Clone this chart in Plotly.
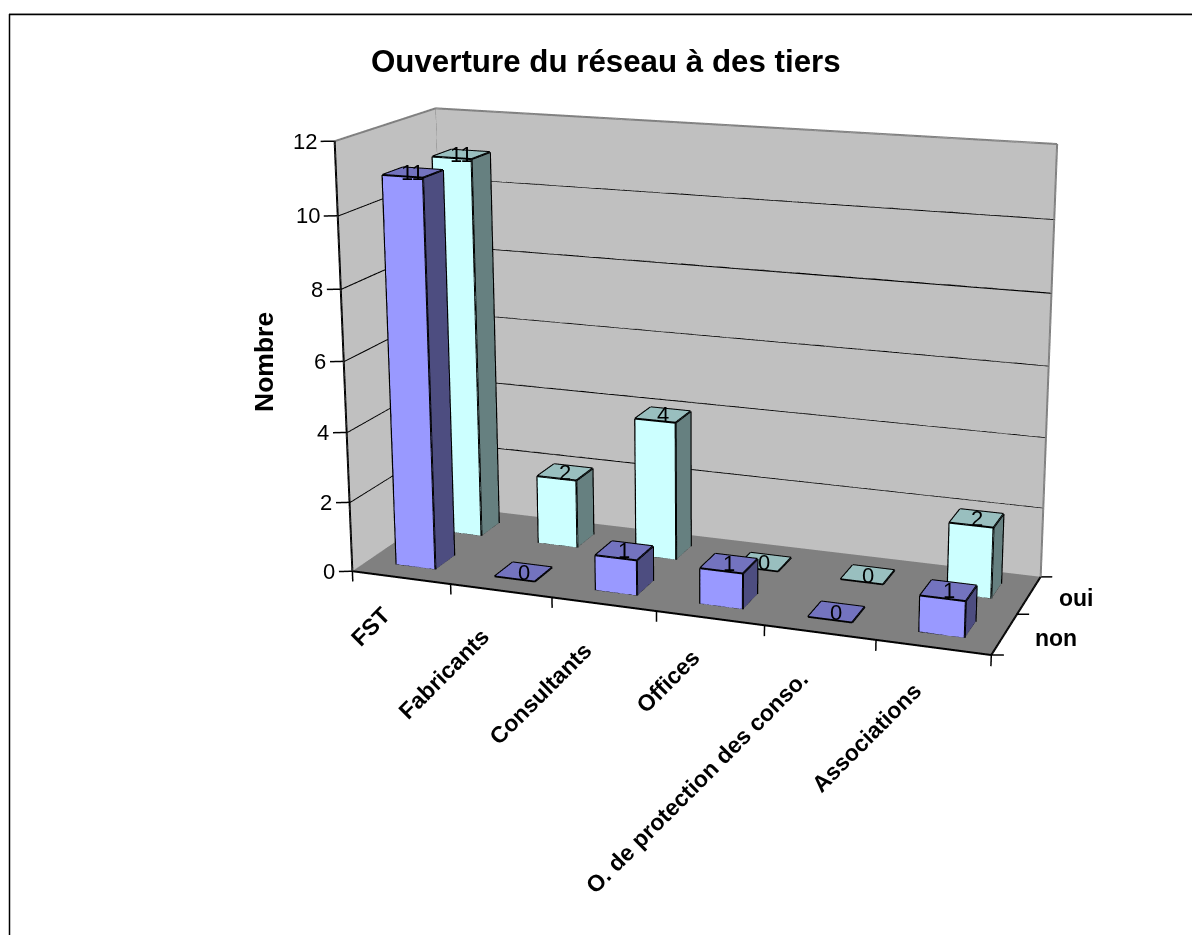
import numpy as np
import plotly.graph_objects as go

categories = ["FST", "Fabricants", "Consultants", "Offices", "O. de protection des conso.", "Associations"]
series = ["non", "oui"]
non = [11, 0, 1, 1, 0, 1]
oui = [11, 2, 4, 0, 0, 2]
z_ticks = [0, 2, 4, 6, 8, 10, 12]

W, H = 1192, 935
XR, YR, ZR = (-0.5, 6.5), (-0.5, 2.5), (-1.5, 13)
lo = np.array([XR[0], YR[0], ZR[0]]); hi = np.array([XR[1], YR[1], ZR[1]])

# camera: a long lens with an off-centre principal point, so the plot is larger than the window and offset
eye = [2.121, -5.799, 1.689]
ctr = [0.007, 0.103, 0.058]
aspect = np.array([0.3073, 0.3061, 0.1025]) * (hi - lo)
LW, LH, OX, OY = 1440, 1923, -10, -618
def pxx(p): return (p - OX) / LW
def pxy(p): return 1 - (p - OY) / LH

BW = 0.2
LIT = dict(ambient=1, diffuse=0, specular=0, fresnel=0, roughness=1)
def bars(vals, yc, c_front, c_side, c_top, name):
    X, Y, Z, I, J, K, FC = [], [], [], [], [], [], []
    ex, ey, ez = [], [], []
    for n, v in enumerate(vals):
        x0, x1, y0, y1, z1 = n + 0.5 - BW, n + 0.5 + BW, yc - BW, yc + BW, max(v, 0.02)
        faces = [([(x0, y0, 0), (x1, y0, 0), (x1, y0, z1), (x0, y0, z1)], c_front),
                 ([(x1, y0, 0), (x1, y1, 0), (x1, y1, z1), (x1, y0, z1)], c_side),
                 ([(x0, y0, z1), (x1, y0, z1), (x1, y1, z1), (x0, y1, z1)], c_top)]
        for pts, c in faces:
            if v == 0 and c != c_top:
                continue
            b = len(X)
            for p in pts:
                X.append(p[0]); Y.append(p[1]); Z.append(p[2])
            I += [b, b]; J += [b + 1, b + 2]; K += [b + 2, b + 3]; FC += [c, c]
            for a, e in ((0, 1), (1, 2), (2, 3), (3, 0)):
                ex += [pts[a][0], pts[e][0], None]
                ey += [pts[a][1], pts[e][1], None]
                ez += [pts[a][2], pts[e][2], None]
    return (go.Mesh3d(x=X, y=Y, z=Z, i=I, j=J, k=K, facecolor=FC, flatshading=True, name=name, lighting=LIT, hoverinfo="skip"),
            go.Scatter3d(x=ex, y=ey, z=ez, mode="lines", line=dict(color="black", width=4), hoverinfo="skip", showlegend=False))

fig = go.Figure()
zt = z_ticks[-1]
nc = len(categories)
fig.add_trace(go.Mesh3d(x=[0, nc, nc, 0, 0, 0, 0, 0, 0, nc, nc, 0],
                        y=[2, 2, 2, 2, 0, 2, 2, 0, 0, 0, 2, 2],
                        z=[0, 0, zt, zt, 0, 0, zt, zt, 0, 0, 0, 0],
                        i=[0, 0, 4, 4, 8, 8], j=[1, 2, 5, 6, 9, 10], k=[2, 3, 6, 7, 10, 11],
                        facecolor=["#C0C0C0"] * 4 + ["#808080"] * 2, flatshading=True, lighting=LIT, hoverinfo="skip"))

def lines(segs, color, width=2):
    xs, ys, zs = [], [], []
    for a, b in segs:
        xs += [a[0], b[0], None]; ys += [a[1], b[1], None]; zs += [a[2], b[2], None]
    fig.add_trace(go.Scatter3d(x=xs, y=ys, z=zs, mode="lines", line=dict(color=color, width=width), hoverinfo="skip"))

lines([((0, 0, z), (0, 2, z)) for z in z_ticks[1:-1]] + [((0, 2, z), (nc, 2, z)) for z in z_ticks[1:-1]], "black", 3.5)
lines([((0, 0, zt), (0, 2, zt)), ((0, 2, zt), (nc, 2, zt)), ((0, 2, 0), (0, 2, zt)), ((nc, 2, 0), (nc, 2, zt))], "#808080", 4)
lines([((0, 0, 0), (0, 0, zt)), ((0, 0, 0), (nc, 0, 0)), ((nc, 0, 0), (nc, 2, 0))], "black", 4)
lines([((0, 0, z), (-0.112, -0.05, z)) for z in z_ticks]
      + [((i, 0, 0), (i, 0, -0.3)) for i in range(nc + 1)]
      + [((nc, j, 0), (nc + 0.1, j + 0.035, 0)) for j in range(3)], "black", 3)

for vals, yc, cols, nm in ((non, 0.5, ("#9999FF", "#4D4D80", "#7373BF"), "non"), (oui, 1.5, ("#CCFFFF", "#668080", "#99BFBF"), "oui")):
    m, e = bars(vals, yc, *cols, nm)
    fig.add_trace(m); fig.add_trace(e)

ann = []
TF = dict(family="Liberation Sans", size=22, color="black")
BF = dict(family="Liberation Sans", size=23, color="black", weight="bold")
for z in z_ticks:
    ann.append(dict(x=-0.13, y=-0.05, z=z, text=str(z), showarrow=False, xanchor="right", yanchor="middle", font=TF))
nudge_x = [0, 0, 1, 3, 2, 3]
nudge_y = [8, 0, 1, 8, 2, 5]
for n, c in enumerate(categories):
    ann.append(dict(x=n + 0.45, y=0, z=-0.9, text=c, showarrow=False, textangle=-45, xanchor="right", yanchor="top",
                    xshift=nudge_x[n], yshift=nudge_y[n], font=BF))
for vals, yc in ((non, 0.5), (oui, 1.5)):
    for n, v in enumerate(vals):
        ann.append(dict(x=n + 0.5, y=yc, z=v, text=str(v), showarrow=False, font=TF))
for j, nm in enumerate(series):
    ann.append(dict(x=nc + 0.25, y=j + 0.5, z=0, text=nm, showarrow=False, xanchor="left", font=BF))

hide = dict(visible=False, showgrid=False, zeroline=False, showbackground=False, showspikes=False)
fig.update_layout(
    width=LW, height=LH, margin=dict(l=0, r=0, t=0, b=0), paper_bgcolor="white", showlegend=False,
    scene=dict(domain=dict(x=[0, 1], y=[0, 1]), aspectmode="manual",
               aspectratio=dict(x=float(aspect[0]), y=float(aspect[1]), z=float(aspect[2])),
               xaxis=dict(range=list(XR), **hide), yaxis=dict(range=list(YR), **hide), zaxis=dict(range=list(ZR), **hide),
               camera=dict(eye=dict(x=eye[0], y=eye[1], z=eye[2]),
                           center=dict(x=ctr[0], y=ctr[1], z=ctr[2]),
                           up=dict(x=0, y=0, z=1), projection=dict(type="perspective")),
               annotations=ann),
    shapes=[dict(type="line", xref="paper", yref="paper", x0=pxx(9), x1=1, y0=pxy(13.5), y1=pxy(13.5), line=dict(color="#BBBBBB", width=1)),
            dict(type="line", xref="paper", yref="paper", x0=pxx(9), x1=1, y0=pxy(14.5), y1=pxy(14.5), line=dict(color="black", width=1.5)),
            dict(type="line", xref="paper", yref="paper", x0=pxx(9.5), x1=pxx(9.5), y0=0, y1=pxy(14), line=dict(color="black", width=1.5))],
    annotations=[dict(xref="paper", yref="paper", x=pxx(606), y=pxy(62), xanchor="center", yanchor="middle", text="<b>Ouverture du réseau à des tiers</b>", showarrow=False,
                      font=dict(family="Liberation Sans", size=31.3, color="black")),
                 dict(xref="paper", yref="paper", x=pxx(264), y=pxy(362), xanchor="center", yanchor="middle", text="<b>Nombre</b>", textangle=-90, showarrow=False,
                      font=dict(family="Liberation Sans", size=26.5, color="black"))],
)
post = ("document.documentElement.style.overflow='hidden';document.body.style.overflow='hidden';document.body.style.margin='0';"
        "var d=document.querySelector('.plotly-graph-div');d.style.position='absolute';d.style.left='%dpx';d.style.top='%dpx';" % (OX, OY))
fig.write_html("out.html", post_script=post, config={"displayModeBar": False})
